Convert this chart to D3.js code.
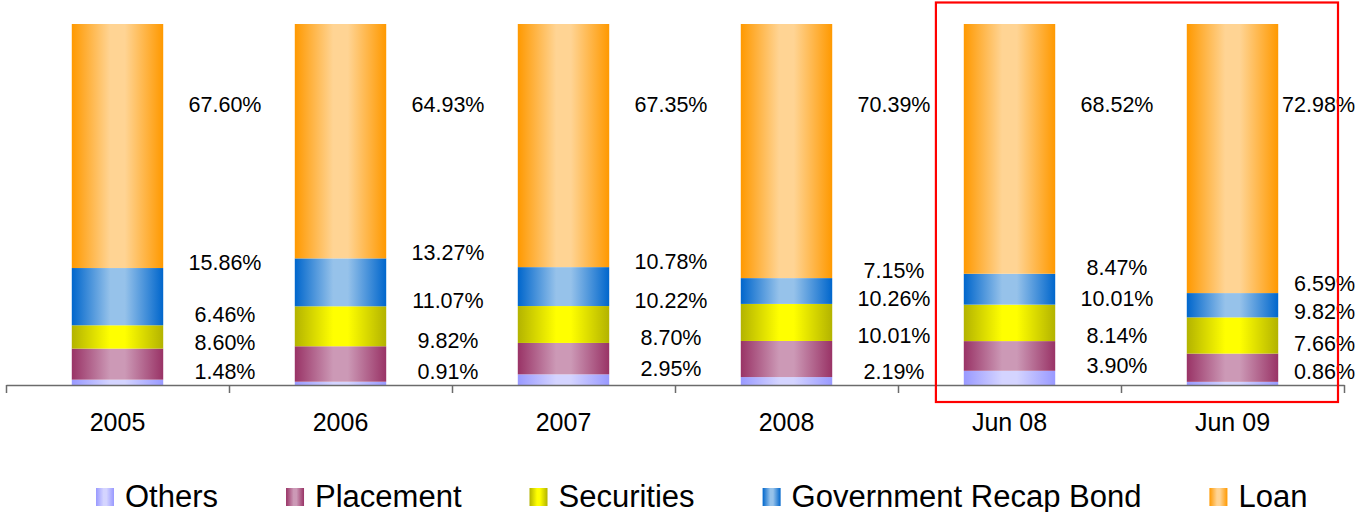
<!DOCTYPE html>
<html>
<head>
<meta charset="utf-8">
<script src="https://cdn.jsdelivr.net/npm/d3@7/dist/d3.min.js"></script>
<style>
  html, body { margin: 0; padding: 0; background: #fff; }
  svg { display: block; font-family: "Liberation Sans", Arial, sans-serif; }
</style>
</head>
<body>
<svg id="chart" width="1357" height="512"></svg>
<script>
// ---------- data ----------
const categories = ["2005", "2006", "2007", "2008", "Jun 08", "Jun 09"];
const seriesNames = ["Others", "Placement", "Securities", "Government Recap Bond", "Loan"];
const others       = [1.48, 0.91, 2.95, 2.19, 3.90, 0.86];
const placement    = [8.60, 9.82, 8.70, 10.01, 8.14, 7.66];
const securities   = [6.46, 11.07, 10.22, 10.26, 10.01, 9.82];
const govRecapBond = [15.86, 13.27, 10.78, 7.15, 8.47, 6.59];
const loan         = [67.60, 64.93, 67.35, 70.39, 68.52, 72.98];
const highlighted  = ["Jun 08", "Jun 09"];

// ---------- styling ----------
const W = 1357, H = 512;
const colors = {
  "Others":                { edge: "#9999FF", mid: "#D4D4FF" },
  "Placement":             { edge: "#993366", mid: "#CC99B6" },
  "Securities":            { edge: "#B3B300", mid: "#FFFF00" },
  "Government Recap Bond": { edge: "#0066CC", mid: "#96C2EA" },
  "Loan":                  { edge: "#FF9900", mid: "#FFD494" }
};

const seriesValues = [others, placement, securities, govRecapBond, loan];
const table = categories.map((c, i) => {
  const row = { category: c };
  seriesNames.forEach((s, k) => row[s] = seriesValues[k][i]);
  return row;
});

const svg = d3.select("#chart");
const defs = svg.append("defs");
seriesNames.forEach((s, k) => {
  const g = defs.append("linearGradient").attr("id", "grad" + k)
    .attr("x1", "0%").attr("x2", "100%").attr("y1", "0%").attr("y2", "0%");
  g.append("stop").attr("offset", "0%").attr("stop-color", colors[s].edge);
  g.append("stop").attr("offset", "42%").attr("stop-color", colors[s].mid);
  g.append("stop").attr("offset", "58%").attr("stop-color", colors[s].mid);
  g.append("stop").attr("offset", "100%").attr("stop-color", colors[s].edge);
});

const axisY = 385, plotTop = 24;
const x = d3.scaleBand().domain(categories).range([6, 1344]).paddingInner(0).paddingOuter(0);
const bw = x.bandwidth();
const barW = bw * 0.41;
const y = d3.scaleLinear().domain([0, 1]).range([axisY, plotTop]);

const stack = d3.stack().keys(seriesNames).offset(d3.stackOffsetExpand);
const stacked = stack(table);

// bars
const gBars = svg.append("g");
stacked.forEach((layer, k) => {
  gBars.selectAll(null).data(layer).enter().append("rect")
    .attr("x", d => x(d.data.category) + (bw - barW) / 2)
    .attr("width", barW)
    .attr("y", d => y(d[1]))
    .attr("height", d => y(d[0]) - y(d[1]))
    .attr("fill", "url(#grad" + k + ")");
});

// axis (ticks at category boundaries)
const xi = d3.scaleLinear().domain([0, categories.length]).range(x.range());
const axisG = svg.append("g").attr("transform", `translate(0,${axisY})`)
  .call(d3.axisBottom(xi).tickValues(d3.range(categories.length + 1))
    .tickSize(8).tickSizeOuter(0).tickFormat(""));
axisG.selectAll("path, line").attr("stroke", "#6b6b6b").attr("stroke-width", 1.5);

const catG = svg.append("g").attr("transform", `translate(0,${axisY})`)
  .call(d3.axisBottom(x).tickSize(0).tickPadding(0));
catG.select(".domain").remove();
catG.selectAll("text").attr("y", 46).attr("dy", null)
  .attr("font-size", "25px").attr("fill", "#000")
  .attr("font-family", "'Liberation Sans', Arial, sans-serif");

// data labels
const gLab = svg.append("g").attr("font-size", "21.5px").attr("fill", "#000");
categories.forEach((c, i) => {
  const bandEnd = x(c) + bw;
  let prev = axisY - 14;
  stacked.forEach((layer, k) => {
    const d = layer[i];
    const txt = d3.format(".2f")(seriesValues[k][i]) + "%";
    let ly;
    if (k === seriesNames.length - 1) {
      ly = y(1) + 80;
    } else {
      ly = Math.min(y(d[1]) - 6, prev);
      prev = ly - 28;
    }
    const t = gLab.append("text").text(txt)
      .attr("text-anchor", "middle").attr("dy", "0.36em").attr("y", ly);
    const tw = t.node().getComputedTextLength();
    const cx = Math.min(bandEnd - 4, W - 2 - tw / 2);
    t.attr("x", cx);
  });
});

// highlight box
const hx0 = x(highlighted[0]) + bw * 0.17;
const hx1 = x(highlighted[highlighted.length - 1]) + bw - 6;
svg.append("rect")
  .attr("x", hx0).attr("y", 2.5)
  .attr("width", hx1 - hx0).attr("height", axisY + 17 - 2.5)
  .attr("fill", "none").attr("stroke", "#FF0000").attr("stroke-width", 2.2);

// legend
const legend = svg.append("g").attr("font-size", "31px");
let lx = 96;
seriesNames.forEach((s, k) => {
  legend.append("rect").attr("x", lx).attr("y", 488).attr("width", 18).attr("height", 18)
    .attr("fill", "url(#grad" + k + ")");
  const t = legend.append("text").attr("x", lx + 29).attr("y", 506.5).attr("fill", "#000").text(s);
  lx += 29 + t.node().getComputedTextLength() + 68;
});
</script>
</body>
</html>
